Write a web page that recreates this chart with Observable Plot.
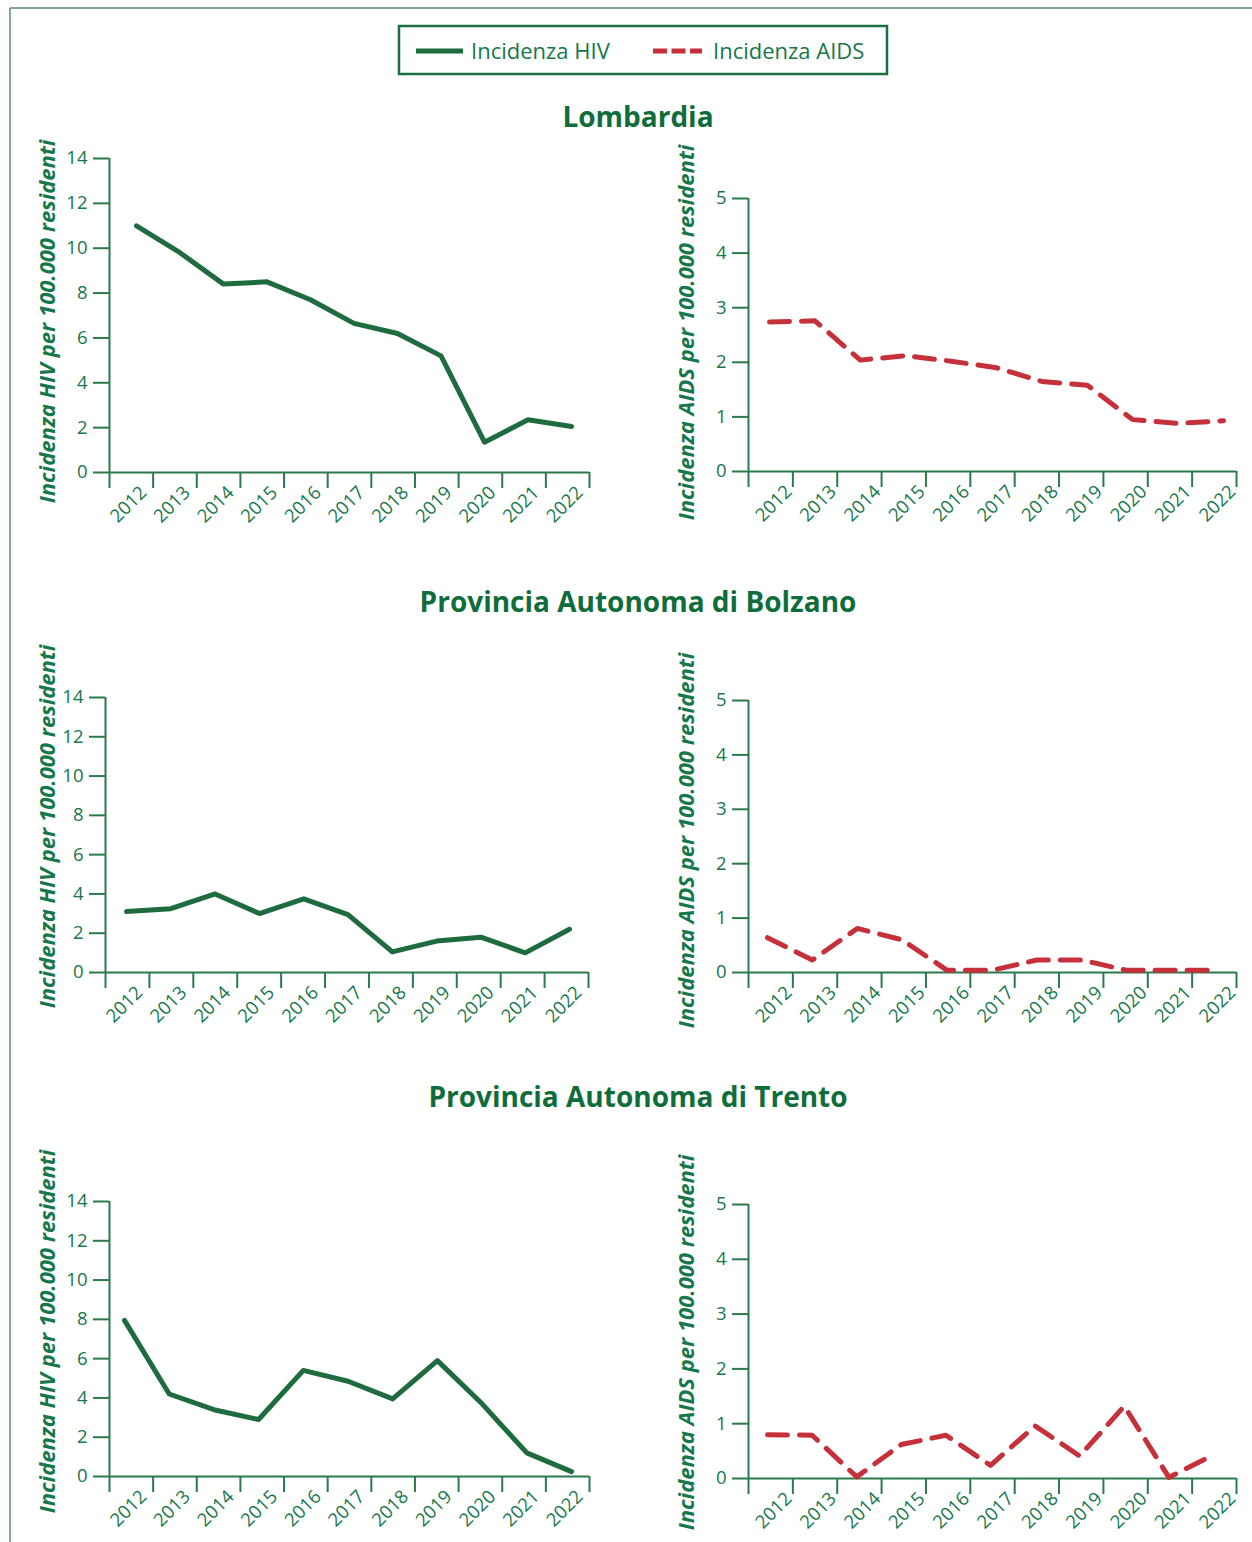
<!DOCTYPE html>
<html>
<head>
<meta charset="utf-8">
<script src="https://cdn.jsdelivr.net/npm/d3@7"></script>
<script src="https://cdn.jsdelivr.net/npm/@observablehq/plot@0.6"></script>
<style>
html, body { margin: 0; padding: 0; background: #fff; }
#page { position: relative; width: 1252px; height: 1542px; overflow: hidden; font-family: "Open Sans", sans-serif; }
.abs { position: absolute; }
</style>
</head>
<body>
<div id="page"></div>
<script>
// ---------------- DATA ----------------
const years = [2012, 2013, 2014, 2015, 2016, 2017, 2018, 2019, 2020, 2021, 2022];
const regions = ["Lombardia", "Provincia Autonoma di Bolzano", "Provincia Autonoma di Trento"];
const seriesNames = ["Incidenza HIV", "Incidenza AIDS"];
const yLabels = ["Incidenza HIV per 100.000 residenti", "Incidenza AIDS per 100.000 residenti"];
const hivTicks = [0, 2, 4, 6, 8, 10, 12, 14];
const aidsTicks = [0, 1, 2, 3, 4, 5];

const hivLombardia  = [11.0, 9.8, 8.4, 8.5, 7.7, 6.65, 6.2, 5.2, 1.35, 2.35, 2.05];
const aidsLombardia = [2.74, 2.76, 2.04, 2.12, 2.02, 1.9, 1.65, 1.58, 0.95, 0.88, 0.93];
const hivBolzano    = [3.1, 3.25, 4.0, 3.0, 3.75, 2.95, 1.05, 1.6, 1.8, 1.0, 2.2];
const aidsBolzano   = [0.64, 0.23, 0.81, 0.6, 0.04, 0.04, 0.23, 0.23, 0.04, 0.04, 0.04];
const hivTrento     = [7.95, 4.2, 3.4, 2.9, 5.4, 4.85, 3.95, 5.9, 3.7, 1.2, 0.25];
const aidsTrento    = [0.8, 0.79, 0.03, 0.62, 0.79, 0.24, 0.96, 0.41, 1.32, 0.02, 0.43];

// ---------------- STYLE ----------------
const GREEN_LINE = "#1d6b3f";
const RED = "#c5303a";
const AXIS = "#2a7a4b";
const TEXT = "#16774a";
const TITLE = "#0f6d3b";
const FONT = '"Open Sans", sans-serif';

const page = document.getElementById("page");

function panel(o) {
  const marginLeft = o.x0 - o.left;
  const marginRight = o.left + o.width - o.x1;
  const marginTop = o.yTop - o.top;
  const marginBottom = o.top + o.height - o.yZero;
  const unit = (o.p1 - o.p0) / 10;
  const d0 = years[0] - (o.p0 - o.x0) / unit;
  const d1 = years[0] + (o.x1 - o.p0) / unit;
  const bounds = d3.range(12).map(k => d0 + k * (d1 - d0) / 11);
  const mids = years.map((y, k) => ({year: y, pos: (bounds[k] + bounds[k + 1]) / 2}));
  const data = years.map((y, i) => ({year: y, value: o.values[i]}));
  const frameCy = (o.yTop + o.yZero) / 2;
  const chart = Plot.plot({
    width: o.width,
    height: o.height,
    marginLeft, marginRight, marginTop, marginBottom,
    x: {type: "linear", domain: [d0, d1]},
    y: {type: "linear", domain: [0, o.yMax]},
    style: {fontFamily: FONT, fontSize: "18px", color: TEXT, background: "transparent", overflow: "visible"},
    marks: [
      Plot.axisY({ticks: o.ticks, tickFormat: d3.format("d"), tickSize: 16, tickPadding: 6, stroke: AXIS, strokeWidth: 2, fill: TEXT, fontSize: 18.5, label: null}),
      Plot.axisX({ticks: bounds, tickSize: 16, tickFormat: () => "", stroke: AXIS, strokeWidth: 2, label: null}),
      Plot.ruleY([0], {stroke: AXIS, strokeWidth: 2}),
      Plot.ruleX([d0], {stroke: AXIS, strokeWidth: 2}),
      Plot.text(mids, {x: "pos", frameAnchor: "bottom", text: d => String(d.year), rotate: -45,
        textAnchor: "end", lineAnchor: "top", dx: o.labelDx, dy: 12, fill: TEXT, fontSize: 18.5}),
      Plot.line(data, {x: "year", y: "value", stroke: o.color, strokeWidth: 5,
        strokeLinecap: "round", strokeLinejoin: "round", strokeDasharray: o.dash}),
      Plot.text([o.label], {frameAnchor: "left", text: d => d, rotate: -90, textAnchor: "middle", lineAnchor: "middle",
        dx: o.labelCx - o.x0, dy: o.labelCy - frameCy, fontWeight: "bold", fontStyle: "italic",
        fontSize: 22, fill: TEXT})
    ]
  });
  const wrap = document.createElement("div");
  wrap.className = "abs";
  wrap.style.left = o.left + "px";
  wrap.style.top = o.top + "px";
  wrap.style.width = o.width + "px";
  wrap.appendChild(chart);
  page.appendChild(wrap);
}

const rows = [
  {title: regions[0], titleY: 127, top: 130, height: 410, hiv: hivLombardia, aids: aidsLombardia,
   L: {x0: 109, x1: 589, yTop: 158, yZero: 472, p0: 136, p1: 571, labelCy: 321},
   R: {x0: 748, x1: 1236, yTop: 198, yZero: 471, p0: 769, p1: 1223, labelCy: 332}},
  {title: regions[1], titleY: 612, top: 630, height: 410, hiv: hivBolzano, aids: aidsBolzano,
   L: {x0: 105, x1: 588, yTop: 697, yZero: 972, p0: 126, p1: 569, labelCy: 826},
   R: {x0: 748, x1: 1236, yTop: 700, yZero: 972, p0: 767, p1: 1216, labelCy: 840}},
  {title: regions[2], titleY: 1107, top: 1125, height: 417, hiv: hivTrento, aids: aidsTrento,
   L: {x0: 109, x1: 589, yTop: 1201, yZero: 1476, p0: 124, p1: 571, labelCy: 1331},
   R: {x0: 748, x1: 1236, yTop: 1204, yZero: 1478, p0: 767, p1: 1213, labelCy: 1342}}
];

rows.forEach(r => {
  panel(Object.assign({left: 0, width: 612, top: r.top, height: r.height, yMax: 14, ticks: hivTicks,
    values: r.hiv, color: GREEN_LINE, dash: null, label: yLabels[0], labelCx: 47, labelDx: 7}, r.L));
  panel(Object.assign({left: 618, width: 634, top: r.top, height: r.height, yMax: 5, ticks: aidsTicks,
    values: r.aids, color: RED, dash: "20,12", label: yLabels[1], labelCx: 686, labelDx: 13}, r.R));
});

// ---------------- OVERLAY: frame, legend, titles ----------------
const svg = d3.create("svg")
  .attr("width", 1252).attr("height", 1542)
  .attr("class", "abs")
  .style("left", "0px").style("top", "0px")
  .style("pointer-events", "none");

svg.append("line").attr("x1", 10).attr("y1", 8).attr("x2", 10).attr("y2", 1542)
  .attr("stroke", "#5b8d69").attr("stroke-width", 1.5);
svg.append("line").attr("x1", 10).attr("y1", 8).attr("x2", 1252).attr("y2", 8)
  .attr("stroke", "#5b8d69").attr("stroke-width", 1.5);

// legend
const lg = svg.append("g");
lg.append("rect").attr("x", 399).attr("y", 26).attr("width", 488).attr("height", 48)
  .attr("fill", "none").attr("stroke", "#1c6d40").attr("stroke-width", 2.5);
lg.append("line").attr("x1", 416).attr("x2", 463).attr("y1", 51).attr("y2", 51)
  .attr("stroke", GREEN_LINE).attr("stroke-width", 5);
lg.append("text").attr("x", 471).attr("y", 59).text(seriesNames[0])
  .attr("font-family", FONT).attr("font-size", 22).attr("fill", TEXT);
lg.append("line").attr("x1", 653).attr("x2", 702).attr("y1", 51).attr("y2", 51)
  .attr("stroke", RED).attr("stroke-width", 5).attr("stroke-dasharray", "14,4.5");
lg.append("text").attr("x", 713).attr("y", 59).text(seriesNames[1])
  .attr("font-family", FONT).attr("font-size", 22).attr("fill", TEXT);

// titles
rows.forEach(r => {
  svg.append("text").attr("x", 638).attr("y", r.titleY).attr("text-anchor", "middle")
    .attr("font-family", FONT).attr("font-weight", "bold").attr("font-size", 28)
    .attr("fill", TITLE).text(r.title);
});

page.appendChild(svg.node());
</script>
</body>
</html>
